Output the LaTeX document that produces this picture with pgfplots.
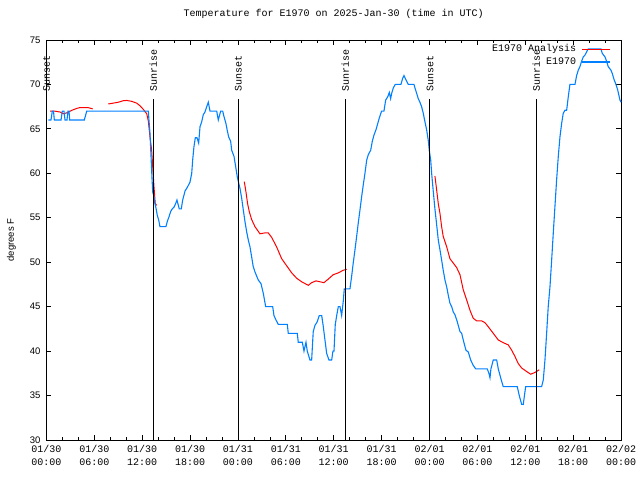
\documentclass[border=0pt]{standalone}
\usepackage{pgfplots}
\pgfplotsset{compat=1.18}
\usepackage{pgfplotstable}
\usepackage{fontspec}
\setmainfont{Liberation Mono}
\newfontfamily\sansf{Liberation Sans}
\definecolor{obsblue}{RGB}{0,128,255}

\pgfplotstableread{
h t
0.44 67.0
1.0 67.0
1.69 66.9
2.1 66.7
2.53 66.8
3.2 67.1
3.78 67.3
4.2 67.4
5.2 67.4
5.79 67.25
nan nan
7.74 67.8
8.37 67.9
9.0 68.0
9.62 68.17
10.05 68.2
10.68 68.1
11.3 67.9
11.72 67.6
12.13 67.2
12.56 66.7
12.76 65.9
12.97 64.1
13.18 62.6
13.31 60.75
13.47 58.5
13.63 56.6
13.81 56.4
nan nan
24.79 59.06
25.0 57.9
25.2 56.6
25.41 55.7
25.71 54.8
26.13 54.0
26.75 53.2
27.38 53.3
27.79 53.3
28.22 52.8
28.85 51.7
29.47 50.4
30.1 49.6
30.73 48.8
31.35 48.2
31.98 47.8
32.81 47.4
33.23 47.7
33.77 47.9
34.27 47.8
34.77 47.7
35.31 48.1
35.94 48.6
36.57 48.8
37.19 49.1
37.62 49.2
nan nan
48.68 59.7
48.9 58.1
49.1 56.6
49.31 55.5
49.52 54.0
49.72 52.9
50.15 51.75
50.56 50.4
50.98 49.9
51.4 49.4
51.82 48.6
52.23 46.9
52.66 45.75
53.07 44.6
53.48 43.7
53.91 43.4
54.54 43.4
54.95 43.2
55.36 42.75
55.99 42.0
56.62 41.25
57.24 40.95
57.87 40.7
58.3 40.1
58.71 39.4
59.12 38.6
59.55 38.1
60.18 37.7
60.68 37.4
61.22 37.6
61.75 37.9
}\analysis

\pgfplotstableread{
h t
0.23 66
0.56 66
0.73 67
0.88 67
0.98 66
1.82 66
1.98 67
2.19 67
2.32 66
2.57 66
2.69 67
2.82 67
2.91 66
4.74 66
5.04 67
12.76 67
12.84 66
12.97 64.5
13.1 61.9
13.22 59.5
13.31 57.9
13.47 57.4
13.56 56.7
13.72 56.1
13.88 55.3
14.06 54.75
14.22 54.0
14.97 54.0
15.14 54.6
15.35 55.1
15.56 55.7
15.76 56.0
16.02 56.25
16.23 56.7
16.35 57.0
16.64 56.0
16.89 56.0
17.07 57.0
17.36 58.0
17.69 58.5
17.98 59.0
18.2 60.0
18.32 61.5
18.48 63.0
18.65 64.0
18.86 64.0
19.07 63.4
19.24 65.25
19.45 65.8
19.65 66.6
19.86 66.9
20.08 67.5
20.28 68.0
20.49 67.0
21.33 67.0
21.53 66.0
21.83 67.0
22.08 67.0
22.24 66.4
22.49 65.6
22.66 64.8
22.83 64.1
23.08 63.6
23.21 62.6
23.5 61.9
23.71 60.75
23.91 59.6
24.09 58.9
24.25 58.3
24.46 57.2
24.66 55.9
24.87 54.6
25.09 53.4
25.29 52.5
25.5 51.75
25.71 50.6
25.91 49.5
26.13 48.9
26.54 48.0
26.88 47.6
27.17 46.5
27.47 45.0
28.35 45.0
28.51 44.0
28.76 43.5
29.05 43.0
30.18 43.0
30.3 42.0
31.43 42.0
31.55 41.0
32.06 41.0
32.27 40.0
32.52 41.0
32.68 40.0
33.02 39.0
33.23 39.0
33.43 42.2
33.65 42.9
33.93 43.3
34.19 44.0
34.49 44.0
34.69 42.75
34.9 41.25
35.11 39.75
35.4 39.0
35.74 39.0
35.9 40.0
36.03 40.0
36.19 43.0
36.37 44.0
36.57 45.0
36.78 45.0
36.99 44.0
37.19 45.6
37.32 47.0
38.03 47.0
38.24 48.4
38.44 49.9
38.66 51.4
38.87 52.9
39.07 54.4
39.29 55.9
39.5 57.4
39.7 58.7
39.91 60.0
40.13 61.5
40.33 62.1
40.63 62.6
40.83 63.6
41.04 64.3
41.29 64.9
41.45 65.4
41.7 66.2
42.0 67.0
42.29 67.0
42.51 68.25
42.76 68.6
42.96 69.1
43.13 68.4
43.26 69.0
43.46 69.6
43.71 70.0
44.42 70.0
44.64 70.7
44.8 71.0
45.01 70.6
45.34 70.0
46.05 70.0
46.18 69.6
46.39 69.0
46.59 68.4
46.8 68.0
47.01 67.5
47.22 66.75
47.43 65.8
47.64 64.9
47.84 63.75
47.97 62.6
48.15 61.5
48.27 60.0
48.47 58.0
48.68 56.0
48.9 54.2
49.1 52.5
49.31 51.4
49.52 50.25
49.72 49.1
49.94 48.0
50.15 47.25
50.35 46.3
50.56 45.4
50.78 45.0
50.98 44.4
51.19 44.1
51.48 43.3
51.82 42.2
52.03 42.0
52.23 41.25
52.57 40.1
52.86 39.9
53.16 39.0
53.48 38.4
53.79 38.0
55.24 38.0
55.45 37.5
55.58 37.0
55.7 38.0
55.99 39.0
56.42 39.0
56.62 38.0
56.92 37.0
57.24 36.0
59.0 36.0
59.25 35.0
59.55 34.0
59.75 34.0
60.05 36.0
62.05 36.0
62.26 36.75
62.47 39.0
62.68 42.0
62.88 45.0
63.1 47.25
63.31 50.25
63.51 53.25
63.72 56.25
63.93 59.25
64.14 61.9
64.35 64.1
64.56 65.6
64.76 66.75
64.98 67.1
65.19 67.1
65.39 68.6
65.6 70.0
66.23 70.0
66.44 71.0
66.64 71.6
66.85 72.0
67.06 72.6
67.27 73.1
67.48 73.3
67.89 74.0
69.49 74.0
69.65 73.5
69.99 73.1
70.2 72.6
70.4 72.0
70.74 71.6
70.9 71.25
71.15 70.5
71.37 70.0
71.58 69.4
71.87 68.25
72.0 68.0
}\observed

\begin{document}
\begin{tikzpicture}
\begin{axis}[
  at={(0,0)}, anchor=south west,
  scale only axis, width=574.5bp, height=400bp,
  xmin=0, xmax=72, ymin=30, ymax=75,
  xtick={0,6,...,72},
  minor x tick num=2,
  ytick={30,35,...,75},
  xticklabels={{01/30\\00:00},{01/30\\06:00},{01/30\\12:00},{01/30\\18:00},{01/31\\00:00},{01/31\\06:00},{01/31\\12:00},{01/31\\18:00},{02/01\\00:00},{02/01\\06:00},{02/01\\12:00},{02/01\\18:00},{02/02\\00:00}},
  xticklabel style={align=center, font=\fontsize{10bp}{13bp}\selectfont, yshift=-2bp},
  yticklabel style={font=\sansf\fontsize{9.5bp}{11bp}\selectfont, xshift=-2.5bp},
  /pgf/number format/assume math mode=true,
  major tick length=5bp, minor tick length=3bp,
  every tick/.style={black, line width=0.8bp},
  axis line style={black, line width=0.9bp},
  ylabel={degrees F},
  ylabel style={font=\sansf\fontsize{9.5bp}{11bp}\selectfont, at={(axis description cs:-0.0609,0.5)}, anchor=center},
  title={Temperature for E1970 on 2025-Jan-30 (time in UTC)},
  title style={font=\fontsize{10bp}{12bp}\selectfont, at={(axis description cs:0.5,1)}, anchor=center, yshift=20bp},
  clip=false,
  unbounded coords=jump,
  legend plot pos=right,
  legend cell align=right,
  legend image code/.code={\draw[#1] (0bp,0bp) -- (28bp,0bp);},
  legend style={draw=none, fill=none, at={(1,1)}, anchor=north east, xshift=-10bp, yshift=-3bp,
    font=\fontsize{10bp}{12bp}\selectfont, row sep=1.5bp, column sep=4bp, inner sep=0pt,
    nodes={inner sep=1.5bp}},
]
\addplot[red, line width=1bp] table[x=h, y=t] {\analysis};
\addlegendentry{E1970 Analysis}
\addplot[obsblue, line width=1.1bp] table[x=h, y=t] {\observed};
\addlegendentry{E1970}

\addplot[black, line width=1bp, forget plot] coordinates {(0,30) (0,68.4)};
\addplot[black, line width=1bp, forget plot] coordinates {(13.38,30) (13.38,68.4)};
\addplot[black, line width=1bp, forget plot] coordinates {(24.04,30) (24.04,68.4)};
\addplot[black, line width=1bp, forget plot] coordinates {(37.45,30) (37.45,68.4)};
\addplot[black, line width=1bp, forget plot] coordinates {(48.06,30) (48.06,68.4)};
\addplot[black, line width=1bp, forget plot] coordinates {(61.38,30) (61.38,68.4)};

\foreach \xx/\lab in {0/Sunset, 13.38/Sunrise, 24.04/Sunset, 37.45/Sunrise, 48.06/Sunset, 61.38/Sunrise}{
  \edef\tmp{\noexpand\node[rotate=90, anchor=west, inner sep=0pt, font=\noexpand\fontsize{10bp}{12bp}\noexpand\selectfont] at (axis cs:\xx,69.18) {\lab};}
  \tmp
}
\end{axis}
\pgfresetboundingbox
\path[use as bounding box] (-46.5bp,-40bp) rectangle (593.5bp,440bp);
\end{tikzpicture}
\end{document}
